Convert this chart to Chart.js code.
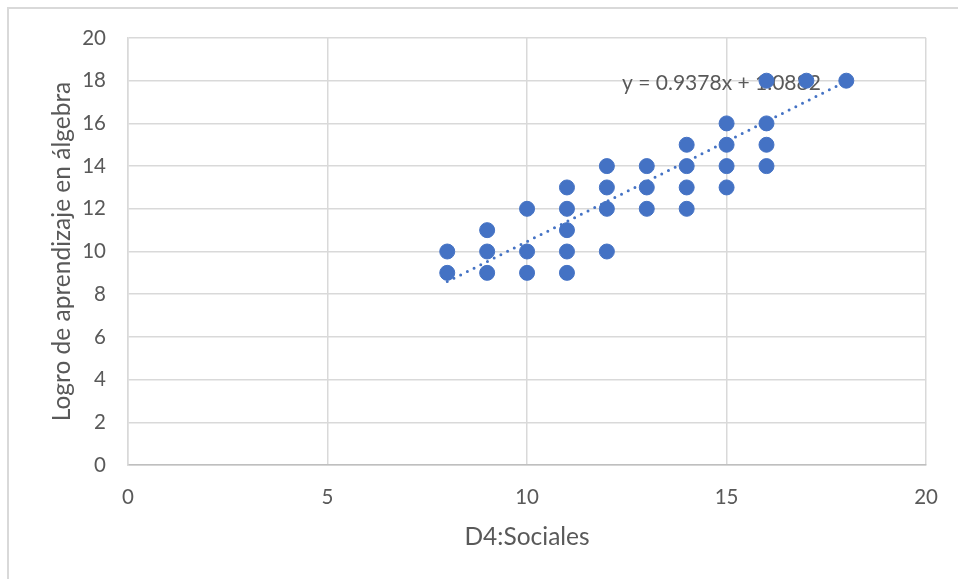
<!DOCTYPE html>
<html>
<head>
<meta charset="utf-8">
<script src="https://cdn.jsdelivr.net/npm/chart.js@4/dist/chart.umd.min.js"></script>
<style>
  html, body { margin: 0; padding: 0; background: #fff; }
  #wrap { position: relative; width: 958px; height: 579px; }
  #frame { position: absolute; left: 7px; top: 7px; right: -5px; bottom: -5px; border-top: 2px solid #d9d9d9; border-left: 2px solid #d9d9d9; }
  canvas { position: absolute; left: 0; top: 0; }
</style>
</head>
<body>
<div id="wrap">
  <div id="frame"></div>
  <canvas id="chart" width="958" height="579"></canvas>
</div>
<script>
// Datos (D4:Sociales vs. logro en álgebra)
const sociales = [8, 8, 9, 9, 9, 10, 10, 10, 11, 11, 11, 11, 11, 12, 12, 12, 12, 13, 13, 13, 14, 14, 14, 14, 15, 15, 15, 15, 16, 16, 16, 16, 17, 18];
const algebra  = [10, 9, 11, 10, 9, 12, 10, 9, 13, 12, 11, 10, 9, 14, 13, 12, 10, 14, 13, 12, 15, 14, 13, 12, 16, 15, 14, 13, 18, 16, 15, 14, 18, 18];

// línea de tendencia (extremos)
const trendX = [8, 18];
const trendY = [8.59, 17.97];
const trendLabel = 'y = 0.9378x + 1.0882';

const xTicks = [0, 5, 10, 15, 20];
const yTicks = [0, 2, 4, 6, 8, 10, 12, 14, 16, 18, 20];

const blue = '#4472C4';
const FONT = 'Lato, "Liberation Sans", sans-serif';

const points = sociales.map((x, i) => ({ x, y: algebra[i] }));
const trend = trendX.map((x, i) => ({ x, y: trendY[i] }));

// etiqueta de la ecuación, debajo de los puntos
const eqLabel = {
  id: 'eqLabel',
  beforeDatasetsDraw(chart) {
    const { ctx, scales } = chart;
    ctx.save();
    ctx.font = '21px ' + FONT;
    ctx.fillStyle = '#595959';
    ctx.textAlign = 'left';
    ctx.textBaseline = 'middle';
    ctx.fillText(trendLabel, scales.x.getPixelForValue(12.38), scales.y.getPixelForValue(17.9));
    ctx.restore();
  }
};

new Chart(document.getElementById('chart'), {
  type: 'scatter',
  data: {
    datasets: [
      {
        label: 'Logro',
        data: points,
        backgroundColor: blue,
        borderColor: blue,
        pointRadius: 7.5,
        pointHoverRadius: 7.5,
        order: 1
      },
      {
        type: 'line',
        label: 'Tendencia',
        data: trend,
        borderColor: blue,
        borderWidth: 3,
        borderDash: [0, 7.5],
        borderCapStyle: 'round',
        pointRadius: 0,
        fill: false,
        order: 2
      }
    ]
  },
  options: {
    responsive: false,
    animation: false,
    layout: { padding: { top: 38, right: 26, left: 0, bottom: 0 } },
    plugins: { legend: { display: false }, tooltip: { enabled: false } },
    scales: {
      x: {
        type: 'linear',
        min: 0, max: 20,
        afterBuildTicks: s => { s.ticks = xTicks.map(v => ({ value: v })); },
        afterFit: s => { s.height = 114; },
        grid: { color: '#d9d9d9', lineWidth: 1.5, drawTicks: false },
        border: { color: '#bfbfbf', width: 1.5 },
        ticks: { color: '#595959', font: { family: FONT, size: 20.5 }, padding: 20, maxRotation: 0 },
        title: { display: true, text: 'D4:Sociales', color: '#595959', font: { family: FONT, size: 24.5 }, padding: { top: 0, bottom: 27 } }
      },
      y: {
        type: 'linear',
        min: 0, max: 20,
        afterBuildTicks: s => { s.ticks = yTicks.map(v => ({ value: v })); },
        afterFit: s => { s.width = 128; },
        grid: { color: '#d9d9d9', lineWidth: 1.5, drawTicks: false },
        border: { color: '#d9d9d9', width: 1.5 },
        ticks: { color: '#595959', font: { family: FONT, size: 20.5 }, padding: 22 },
        title: { display: true, text: 'Logro de aprendizaje en álgebra', color: '#595959', font: { family: FONT, size: 24.5 }, padding: { top: 47, bottom: 0 } }
      }
    }
  },
  plugins: [eqLabel]
});
</script>
</body>
</html>
